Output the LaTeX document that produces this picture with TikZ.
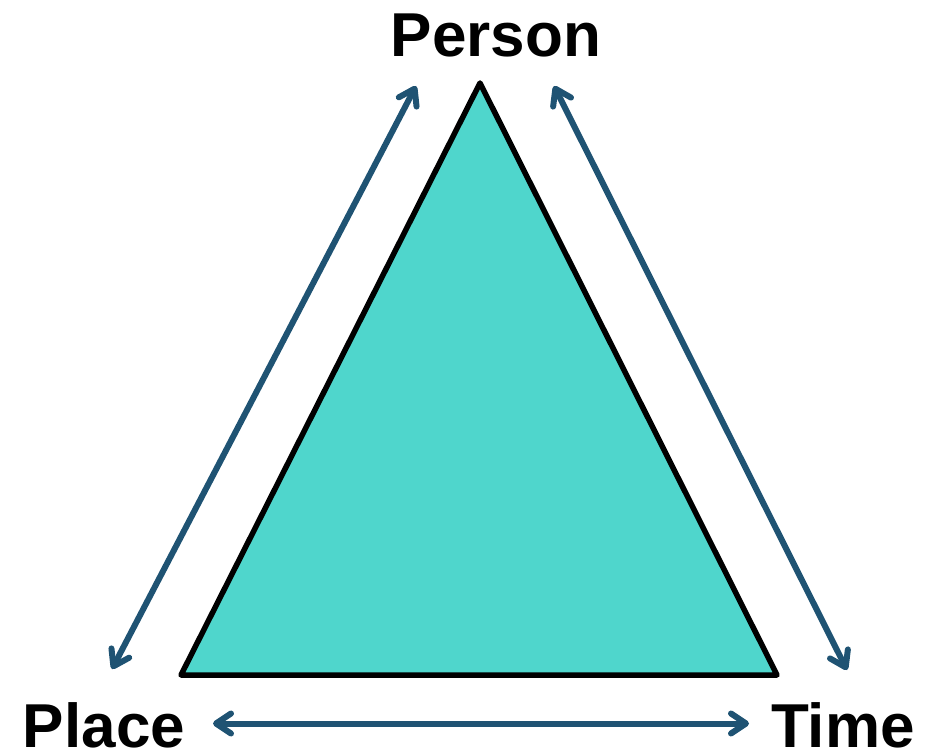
\documentclass[tikz,border=0pt]{standalone}
\usepackage{fontspec}
\setmainfont{Liberation Sans}
\usetikzlibrary{arrows.meta}
\definecolor{tri}{RGB}{79,214,204}
\definecolor{arr}{RGB}{31,83,115}
\tikzset{
  lbl/.style={font=\fontsize{62}{62}\selectfont\bfseries, anchor=base, inner sep=0pt},
  link/.style={draw=arr, line width=6pt, line cap=round,
    {Straight Barb[length=15pt,width=20pt,line cap=round,line join=round]}-{Straight Barb[length=15pt,width=20pt,line cap=round,line join=round]}}
}
\begin{document}
\begin{tikzpicture}[x=1pt,y=-1pt]
\useasboundingbox (0,0) rectangle (925,754);
\coordinate (A) at (480,83);
\coordinate (B) at (181,675);
\coordinate (C) at (777,675);
\fill[tri] (A) -- (B) -- (C) -- cycle;
\draw[line width=5.5pt, line join=round] (A) -- (B) -- (C) -- cycle;
\node[lbl] (person) at (496,57) {Person};
\node[lbl] (place) at (104,747) {Place};
\node[lbl] (time) at (843,747) {Time};
\coordinate (l1) at (416,86);
\coordinate (l2) at (112,669);
\coordinate (r1) at (554,86);
\coordinate (r2) at (847,670);
\coordinate (b1) at (213,723.5);
\coordinate (b2) at (749,723.5);
\draw[link] (l2) -- (l1);
\draw[link] (r1) -- (r2);
\draw[link] (b1) -- (b2);
\end{tikzpicture}
\end{document}
